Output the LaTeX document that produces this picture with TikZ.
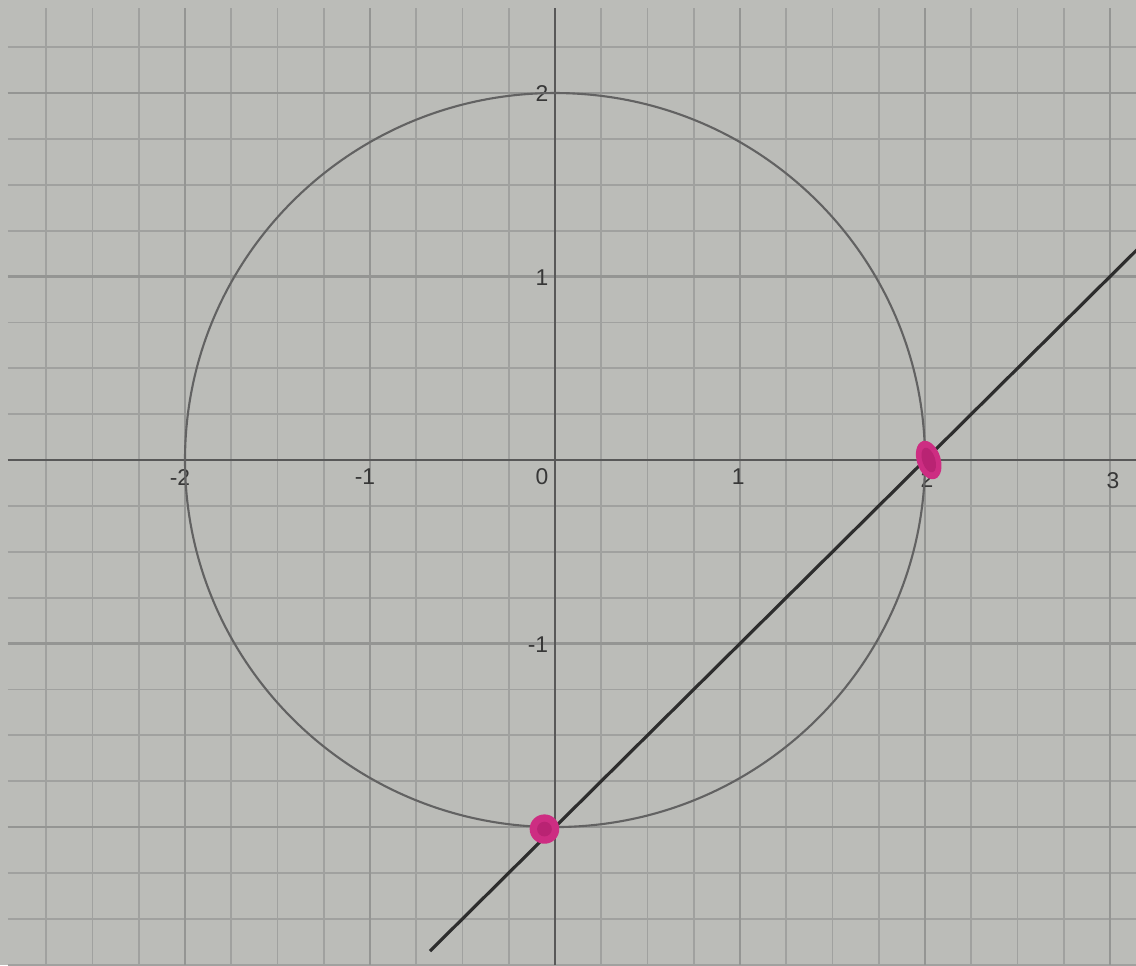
\documentclass[tikz,border=0pt]{standalone}
\usepackage{fontspec}
\setsansfont{Liberation Sans}
\definecolor{paper}{RGB}{187,188,184}
\definecolor{minorg}{RGB}{160,161,159}
\definecolor{majorg}{RGB}{148,149,147}
\definecolor{axisc}{RGB}{88,88,88}
\definecolor{circc}{RGB}{98,98,98}
\definecolor{linec}{RGB}{45,45,45}
\definecolor{labc}{RGB}{55,55,55}
\definecolor{magc}{RGB}{205,45,130}
\definecolor{magd}{RGB}{185,35,115}
\tikzset{
  minorgrid/.style={minorg, line width=0.5pt},
  majorgrid/.style={majorg, line width=0.6pt},
  axisline/.style={axisc, line width=0.75pt},
  curve/.style={circc, line width=0.6pt},
  graphline/.style={linec, line width=0.9pt},
  lab/.style={labc, font=\sffamily\fontsize{6.5}{7}\selectfont, inner sep=0pt},
  dotmark/.style={fill=magc}
}
\begin{document}
\begin{tikzpicture}[x=1.85cm,y=1.835cm]
\fill[paper] (-3,-2.752) rectangle (3.1405,2.507);
\useasboundingbox (-3,-2.752) rectangle (3.1405,2.507);
\clip (-3,-2.752) rectangle (3.1405,2.507);
% grid
\draw[minorgrid] (-2.957,-2.752) grid[step=0.25] (3.1405,2.463);
\draw[majorgrid] (-2.957,-2.752) grid[step=1] (3.1405,2.463);
% axes
\coordinate (xl) at (-2.957,0);
\coordinate (xr) at (3.1405,0);
\coordinate (yb) at (0,-2.752);
\coordinate (yt) at (0,2.463);
\draw[axisline] (xl) -- (xr);
\draw[axisline] (yb) -- (yt);
% tick labels
\node[lab] (xm2) at (-2.027,-0.093) {-2};
\node[lab] (xm1) at (-1.027,-0.093) {-1};
\node[lab] (x0) at (-0.07,-0.093) {0};
\node[lab] (x1) at (0.99,-0.093) {1};
\node[lab] (x2) at (2.01,-0.105) {2};
\node[lab] (x3) at (3.016,-0.11) {3};
\node[lab] (y2) at (-0.07,1.995) {2};
\node[lab] (y1) at (-0.07,0.992) {1};
\node[lab] (ym1) at (-0.092,-1.008) {-1};
% circle
\coordinate (O) at (0,0);
\draw[curve] (O) circle (2);
% line y = x - 2
\coordinate (L1) at (-0.676,-2.676);
\coordinate (L2) at (3.2,1.2);
\draw[graphline] (L1) -- (L2);
% intersection marks
\coordinate (P1) at (2.02,0.0);
\coordinate (P2) at (-0.057,-2.011);
\fill[dotmark, rotate around={18:(P1)}] (P1) ellipse [x radius=0.064, y radius=0.108];
\fill[magd, rotate around={18:(P1)}] (P1) ellipse [x radius=0.035, y radius=0.07];
\fill[dotmark] (P2) circle [radius=0.08];
\fill[magd] (P2) circle [radius=0.04];
\end{tikzpicture}
\end{document}
